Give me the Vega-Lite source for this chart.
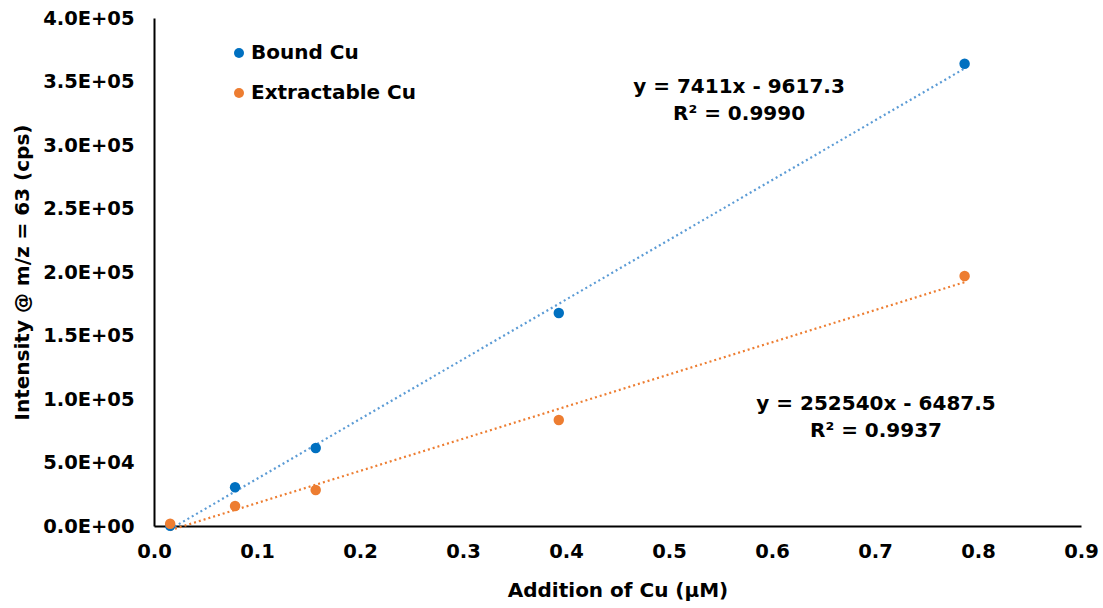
{
  "$schema": "https://vega.github.io/schema/vega-lite/v6.json",
  "width": 927,
  "height": 508,
  "autosize": {"type": "none"},
  "padding": {"left": 154, "top": 18, "right": 22, "bottom": 82},
  "background": "white",
  "config": {
    "font": "DejaVu Sans",
    "view": {"stroke": null},
    "axis": {
      "grid": false,
      "ticks": false,
      "domainColor": "black",
      "domainWidth": 2,
      "labelFont": "DejaVu Sans",
      "labelFontWeight": "bold",
      "labelFontSize": 19.5,
      "labelColor": "black",
      "labelFlush": false,
      "titleFont": "DejaVu Sans",
      "titleFontWeight": "bold",
      "titleFontSize": 20,
      "titleColor": "black"
    }
  },
  "datasets": {
    "pts": [
      {"x": 0.0157, "y": 200, "series": "Bound Cu"},
      {"x": 0.0787, "y": 30500, "series": "Bound Cu"},
      {"x": 0.157, "y": 61400, "series": "Bound Cu"},
      {"x": 0.393, "y": 167700, "series": "Bound Cu"},
      {"x": 0.787, "y": 364000, "series": "Bound Cu"},
      {"x": 0.0157, "y": 1800, "series": "Extractable Cu"},
      {"x": 0.0787, "y": 15700, "series": "Extractable Cu"},
      {"x": 0.157, "y": 28300, "series": "Extractable Cu"},
      {"x": 0.393, "y": 83500, "series": "Extractable Cu"},
      {"x": 0.787, "y": 196800, "series": "Extractable Cu"}
    ],
    "notes": [
      {"x": 0.568, "y": 345700, "label": "y = 7411x - 9617.3"},
      {"x": 0.568, "y": 324400, "label": "R² = 0.9990"},
      {"x": 0.701, "y": 96000, "label": "y = 252540x - 6487.5"},
      {"x": 0.701, "y": 74800, "label": "R² = 0.9937"}
    ]
  },
  "layer": [
    {
      "data": {"name": "pts"},
      "transform": [{"regression": "y", "on": "x", "groupby": ["series"]}],
      "mark": {"type": "line", "strokeDash": [2, 3], "strokeWidth": 2.2},
      "encoding": {
        "x": {"field": "x", "type": "quantitative", "scale": {"domain": [0, 0.9], "nice": false},
              "axis": {"values": [0, 0.1, 0.2, 0.3, 0.4, 0.5, 0.6, 0.7, 0.8, 0.9], "format": ".1f", "labelPadding": 16, "title": "Addition of Cu (µM)", "titleY": 64, "titleBaseline": "middle"}},
        "y": {"field": "y", "type": "quantitative", "scale": {"domain": [0, 400000], "nice": false},
              "axis": {"values": [0, 50000, 100000, 150000, 200000, 250000, 300000, 350000, 400000],
                       "labelExpr": "datum.value >= 100000 ? format(datum.value/100000, '.1f') + 'E+05' : (datum.value > 0 ? format(datum.value/10000, '.1f') + 'E+04' : '0.0E+00')",
                       "labelPadding": 20, "title": "Intensity @ m/z = 63 (cps)", "titleX": -132, "titleY": 254, "titleAngle": -90, "titleAlign": "center", "titleBaseline": "middle"}},
        "color": {"field": "series", "type": "nominal", "scale": {"domain": ["Bound Cu", "Extractable Cu"], "range": ["#5B9BD5", "#ED7D31"]}, "legend": null}
      }
    },
    {
      "data": {"name": "pts"},
      "mark": {"type": "circle", "size": 110, "opacity": 1},
      "encoding": {
        "x": {"field": "x", "type": "quantitative"},
        "y": {"field": "y", "type": "quantitative"},
        "color": {"field": "series", "type": "nominal", "scale": {"domain": ["Bound Cu", "Extractable Cu"], "range": ["#0070C0", "#ED7D31"]},
                  "legend": {"title": null, "orient": "none", "legendX": 75, "legendY": 25, "symbolSize": 100, "symbolType": "circle", "labelFont": "DejaVu Sans", "labelFontWeight": "bold", "labelFontSize": 20, "labelColor": "black", "labelOffset": 2, "labelLimit": 400, "rowPadding": 20}}
      }
    },
    {
      "data": {"name": "notes"},
      "mark": {"type": "text", "font": "DejaVu Sans", "fontWeight": "bold", "fontSize": 20, "color": "black", "align": "center", "baseline": "middle"},
      "encoding": {
        "x": {"field": "x", "type": "quantitative"},
        "y": {"field": "y", "type": "quantitative"},
        "text": {"field": "label"}
      }
    }
  ],
  "resolve": {"scale": {"color": "independent"}}
}
